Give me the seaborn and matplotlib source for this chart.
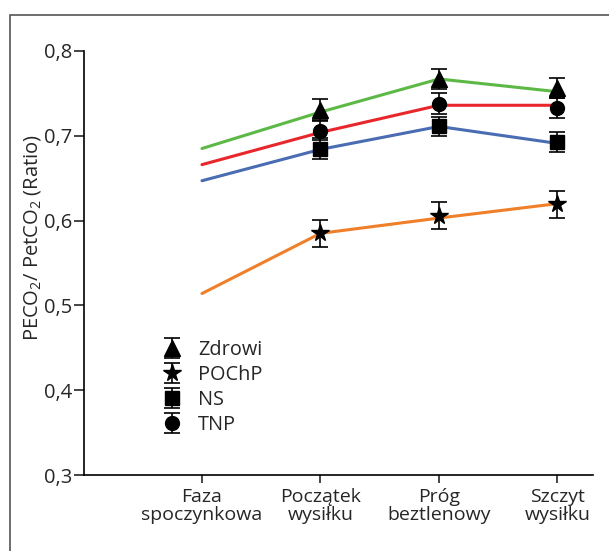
import numpy as np
import pandas as pd
import seaborn as sns
import matplotlib.pyplot as plt
from matplotlib.patches import Rectangle
from matplotlib.ticker import FuncFormatter

# Phases of the test (x axis)
phases = ['Faza\nspoczynkowa', 'Początek\nwysiłku', 'Próg\nbeztlenowy', 'Szczyt\nwysiłku']
groups = ['Zdrowi', 'POChP', 'NS', 'TNP']

# Coloured trend lines (all four phases)
line_zdrowi = [0.685, 0.728, 0.767, 0.752]
line_pochp = [0.514, 0.585, 0.603, 0.620]
line_ns = [0.647, 0.684, 0.711, 0.691]
line_tnp = [0.666, 0.704, 0.736, 0.736]

# Markers with error bars (phases 2-4 only)
mean_zdrowi = [0.731, 0.767, 0.756]
mean_pochp = [0.585, 0.606, 0.619]
mean_ns = [0.685, 0.711, 0.693]
mean_tnp = [0.706, 0.738, 0.733]
sd_zdrowi = [0.012, 0.012, 0.012]
sd_pochp = [0.016, 0.016, 0.016]
sd_ns = [0.012, 0.011, 0.012]
sd_tnp = [0.011, 0.012, 0.012]

line_colors = {'Zdrowi': '#5cb946', 'POChP': '#f07f2a', 'NS': '#4a6cb2', 'TNP': '#e8262b'}
markers = {'Zdrowi': '^', 'POChP': '*', 'NS': 's', 'TNP': 'o'}
msizes = {'Zdrowi': 11, 'POChP': 13, 'NS': 10, 'TNP': 10}

sns.set_style('white')
plt.rcParams['font.family'] = ['Open Sans', 'DejaVu Sans']
plt.rcParams['mathtext.default'] = 'regular'

lines = {'Zdrowi': line_zdrowi, 'POChP': line_pochp, 'NS': line_ns, 'TNP': line_tnp}
means = {'Zdrowi': mean_zdrowi, 'POChP': mean_pochp, 'NS': mean_ns, 'TNP': mean_tnp}
sds = {'Zdrowi': sd_zdrowi, 'POChP': sd_pochp, 'NS': sd_ns, 'TNP': sd_tnp}

df = pd.DataFrame([
    {'x': i, 'y': v, 'group': g}
    for g in groups for i, v in enumerate(lines[g])
])

fig = plt.figure(figsize=(6.09, 5.51), dpi=100)
ax = fig.add_axes([83.5 / 609, 1 - 475 / 551, (593 - 83.5) / 609, (475 - 51) / 551])

sns.lineplot(data=df, x='x', y='y', hue='group', palette=line_colors,
             linewidth=2.2, legend=False, ax=ax)

# Black markers with error bars
for g in groups:
    ax.errorbar(np.arange(1, 4), means[g], yerr=sds[g], fmt=markers[g],
                color='black', ms=msizes[g], capsize=5.5, elinewidth=1.2,
                capthick=1.2, label=g, zorder=5)

ax.set_xlim(-1.0, 3.3)
ax.set_ylim(0.3, 0.8)
ax.set_yticks([0.3, 0.4, 0.5, 0.6, 0.7, 0.8])
ax.yaxis.set_major_formatter(FuncFormatter(lambda v, p: f'{v:.1f}'.replace('.', ',')))
ax.set_xticks(range(4))
ax.set_xticklabels(phases, fontsize=14, linespacing=1.05)
ax.tick_params(axis='y', labelsize=14.5, length=7, width=1.2, direction='out', left=True, pad=1)
ax.tick_params(axis='x', length=6, width=1.2, direction='out', bottom=True, pad=3)
sns.despine(ax=ax)
for s in ['left', 'bottom']:
    ax.spines[s].set_linewidth(1.2)
    ax.spines[s].set_color('black')
ax.set_xlabel('')
ax.set_ylabel('PECO$_2$/ PetCO$_2$ (Ratio)', fontsize=14.5)
ax.yaxis.set_label_coords(-0.08, 0.561)

ax.legend(loc='upper left', bbox_to_anchor=(0.12, 0.36), frameon=False,
          fontsize=14.3, handlelength=1.0, handletextpad=0.8, labelspacing=0.25)

# outer frame
fig.add_artist(Rectangle((9.5 / 609, -0.5), 2, 1.5 - 15 / 551, transform=fig.transFigure,
                         fill=False, edgecolor='#555555', linewidth=1.2))

fig.savefig('out.png', dpi=100)
